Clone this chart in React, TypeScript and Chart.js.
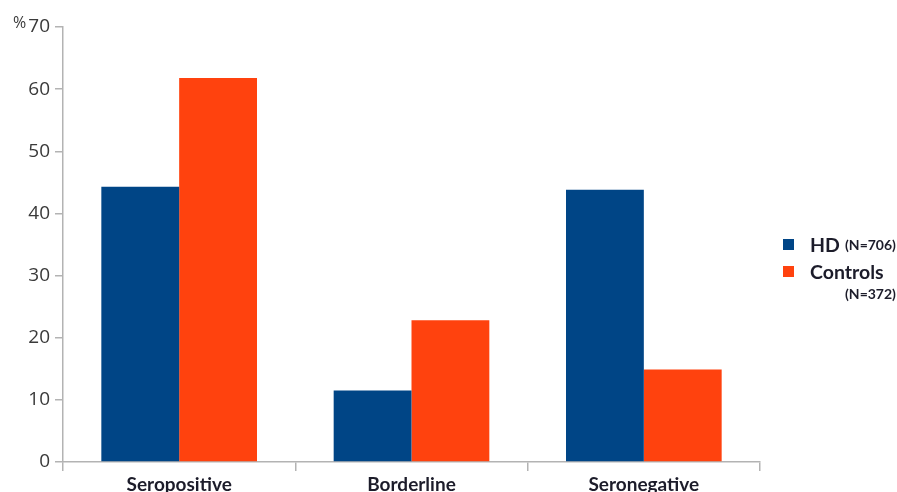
import React, { useEffect, useRef } from "react";
import { Chart, registerables } from "chart.js";

Chart.register(...registerables);

const categories = ["Seropositive", "Borderline", "Seronegative"];
const hdValues = [44.3, 11.5, 43.8];
const controlValues = [61.8, 22.8, 14.9];
const yTicks = [0, 10, 20, 30, 40, 50, 60, 70];
const hdLabel = "HD";
const hdN = "(N=706)";
const controlLabel = "Controls";
const controlN = "(N=372)";

const HD_COLOR = "#004586";
const CTRL_COLOR = "#ff420e";

export default function App() {
  const ref = useRef<HTMLCanvasElement | null>(null);

  useEffect(() => {
    if (!ref.current) return;
    const chart = new Chart(ref.current, {
      type: "bar",
      data: {
        labels: categories,
        datasets: [
          {
            label: hdLabel,
            data: hdValues,
            backgroundColor: HD_COLOR,
            categoryPercentage: 0.67,
            barPercentage: 1,
          },
          {
            label: controlLabel,
            data: controlValues,
            backgroundColor: CTRL_COLOR,
            categoryPercentage: 0.67,
            barPercentage: 1,
          },
        ],
      },
      options: {
        animation: false,
        responsive: true,
        maintainAspectRatio: false,
        layout: { padding: { left: 0, right: 137, top: 27, bottom: 0 } },
        plugins: {
          legend: { display: false },
          tooltip: { enabled: false },
        },
        scales: {
          x: {
            grid: {
              display: true,
              drawOnChartArea: false,
              offset: true,
              tickLength: 9,
              color: "#b3b3b3",
              lineWidth: 1.5,
            },
            border: { color: "#b3b3b3", width: 1.5 },
            ticks: {
              color: "#1c1c2a",
              padding: 2,
              font: { family: "Lato", weight: "bold", size: 19 },
            },
            afterFit: (scale: any) => {
              scale.height = 30;
            },
          },
          y: {
            min: 0,
            max: 70,
            afterBuildTicks: (scale: any) => {
              scale.ticks = yTicks.map((v) => ({ value: v }));
            },
            grid: {
              display: true,
              drawOnChartArea: false,
              tickLength: 8,
              color: "#b3b3b3",
              lineWidth: 1.5,
            },
            border: { color: "#b3b3b3", width: 1.5 },
            ticks: {
              color: "#3a3a3a",
              padding: 5,
              font: { family: "Open Sans", size: 19 },
            },
            afterFit: (scale: any) => {
              scale.width = 63;
            },
          },
        },
      },
    });
    return () => chart.destroy();
  }, []);

  const legendText: React.CSSProperties = {
    fontFamily: "Lato",
    fontWeight: 700,
    fontSize: 19.5,
    color: "#1c1c2a",
    position: "absolute",
    whiteSpace: "nowrap",
    lineHeight: 1,
  };
  const small: React.CSSProperties = {
    fontFamily: "Lato",
    fontWeight: 700,
    fontSize: 14,
    color: "#1c1c2a",
    position: "absolute",
    whiteSpace: "nowrap",
    lineHeight: 1,
  };

  return (
    <div
      style={{
        position: "absolute",
        left: 0,
        top: 0,
        width: 897,
        height: 492,
        overflow: "hidden",
        background: "#fff",
      }}
    >
      <canvas ref={ref} />
      <span
        style={{
          position: "absolute",
          left: 13,
          top: 14,
          fontFamily: "Open Sans",
          fontSize: 16,
          lineHeight: 1,
          color: "#3a3a3a",
        }}
      >
        %
      </span>
      <div style={{ position: "absolute", left: 783, top: 239, width: 11, height: 11, background: HD_COLOR }} />
      <span style={{ ...legendText, left: 810, top: 235 }}>{hdLabel}</span>
      <span style={{ ...small, left: 845, top: 238 }}>{hdN}</span>
      <div style={{ position: "absolute", left: 783, top: 266, width: 11, height: 11, background: CTRL_COLOR }} />
      <span style={{ ...legendText, left: 810, top: 262 }}>{controlLabel}</span>
      <span style={{ ...small, left: 845, top: 287 }}>{controlN}</span>
    </div>
  );
}
